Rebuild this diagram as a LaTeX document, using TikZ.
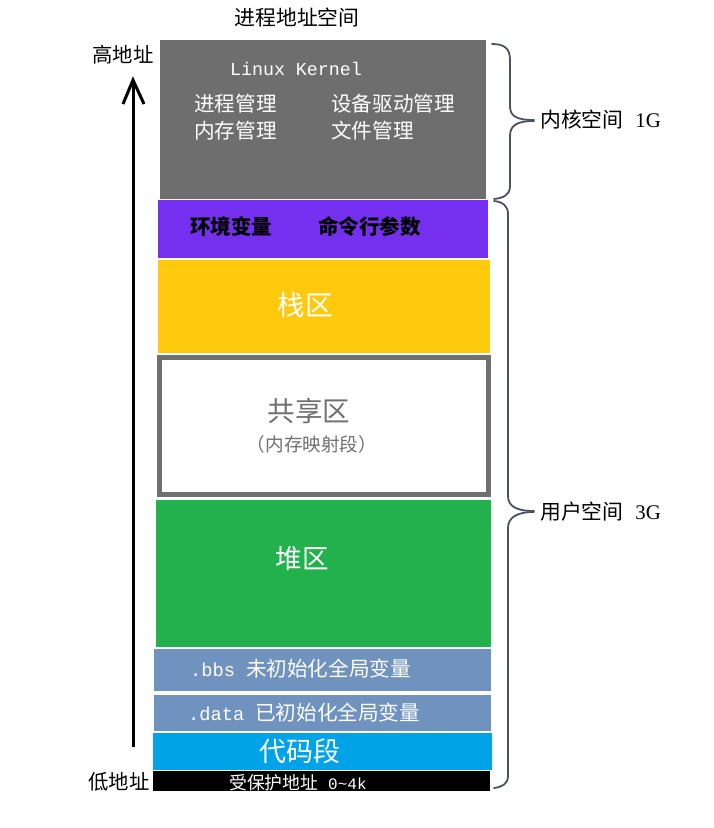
\documentclass[tikz,border=0pt]{standalone}
\usepackage{fontspec}
\setmainfont{Noto Sans CJK SC}
\newfontfamily\monofnt{Liberation Mono}
\newfontfamily\seriffnt{Liberation Serif}
\definecolor{kgray}{HTML}{6E6E6E}
\definecolor{vpurple}{HTML}{7430EE}
\definecolor{syellow}{HTML}{FFC90E}
\definecolor{hgreen}{HTML}{22B14C}
\definecolor{sblue}{HTML}{7092BE}
\definecolor{ccyan}{HTML}{00A2E8}
\definecolor{bordergray}{HTML}{707070}
\definecolor{bracecol}{HTML}{4A5262}
\begin{document}
\begin{tikzpicture}[x=1pt,y=-1pt,
  wtxt/.style={text=white,inner sep=0pt},
  btxt/.style={text=black,inner sep=0pt},
  bracestyle/.style={draw=bracecol,line width=1.8pt,line cap=round,line join=round},
  arrowline/.style={line width=3pt}]
\useasboundingbox (0,0) rectangle (713,828);
% segments
\fill[kgray] (160,40) rectangle (486,199);
\fill[vpurple] (158,200) rectangle (488,258);
\fill[syellow] (158,260) rectangle (490,353);
\draw[bordergray,line width=5pt,fill=white] (159.5,357.5) rectangle (488.5,494.5);
\fill[hgreen] (156,500) rectangle (491,647);
\fill[sblue] (154,649) rectangle (491,691);
\fill[sblue] (154,695) rectangle (491,731);
\fill[ccyan] (153,733) rectangle (492,770);
\fill[black] (153,771) rectangle (490,791);
% texts
\node[btxt,font=\fontsize{20.8}{22}\selectfont] (title) at (297,18) {进程地址空间};
\node[btxt,font=\fontsize{20.4}{22}\selectfont] (high) at (123,55) {高地址};
\node[btxt,font=\fontsize{20.4}{22}\selectfont] (low) at (119,782) {低地址};
\node[wtxt,font=\monofnt\fontsize{18.3}{20}\selectfont] (kern) at (296,69) {Linux Kernel};
\node[wtxt,anchor=west,font=\fontsize{20.6}{22}\selectfont] (k1) at (194,104) {进程管理};
\node[wtxt,anchor=west,font=\fontsize{20.6}{22}\selectfont] (k2) at (331,104) {设备驱动管理};
\node[wtxt,anchor=west,font=\fontsize{20.6}{22}\selectfont] (k3) at (194,131) {内存管理};
\node[wtxt,anchor=west,font=\fontsize{20.6}{22}\selectfont] (k4) at (331,131) {文件管理};
\node[btxt,anchor=west,font=\bfseries\fontsize{20.5}{22}\selectfont] (env) at (190,227) {环境变量};
\node[btxt,anchor=west,font=\bfseries\fontsize{20.5}{22}\selectfont] (cmd) at (318,227) {命令行参数};
\node[wtxt,font=\fontsize{27.5}{30}\selectfont] (stack) at (305,305) {栈区};
\node[text=bordergray,inner sep=0pt,font=\fontsize{27.5}{30}\selectfont] (share) at (309,411) {共享区};
\node[text=bordergray,inner sep=0pt,font=\fontsize{18.6}{20}\selectfont] (mmap) at (312,444) {（内存映射段）};
\node[wtxt,font=\fontsize{26.5}{30}\selectfont] (heap) at (302,559) {堆区};
\node[wtxt,anchor=west,font=\fontsize{20.6}{22}\selectfont] (bbs) at (190,669) {{\monofnt\fontsize{18.7}{22}\selectfont .bbs}\hspace{11pt}未初始化全局变量};
\node[wtxt,anchor=west,font=\fontsize{20.6}{22}\selectfont] (data) at (188,713) {{\monofnt\fontsize{18.7}{22}\selectfont .data}\hspace{11pt}已初始化全局变量};
\node[wtxt,font=\fontsize{27}{30}\selectfont] (code) at (300,751) {代码段};
\node[wtxt,anchor=west,font=\fontsize{17.8}{19}\selectfont] (prot) at (229,783) {受保护地址\hspace{10pt}{\monofnt\fontsize{16}{19}\selectfont 0\char`\~4k}};
\node[btxt,anchor=west,font=\fontsize{20.8}{22}\selectfont] (ks) at (540,120) {内核空间\hspace{12pt}{\seriffnt 1G}};
\node[btxt,anchor=west,font=\fontsize{20.8}{22}\selectfont] (us) at (540,512) {用户空间\hspace{12pt}{\seriffnt 3G}};
% arrow
\coordinate (abot) at (133,747);
\coordinate (atop) at (133,80);
\draw[arrowline] (abot) -- (atop);
\draw[arrowline,line join=miter] (123,104) -- (atop) -- (144,104);
% braces
\draw[bracestyle] (492,44) .. controls (504,44) and (510,48) .. (510,60) -- (510,106)
  .. controls (510,116) and (516,120) .. (534,120);
\draw[bracestyle] (534,121) .. controls (516,121) and (510,126) .. (510,136) -- (510,186)
  .. controls (510,196) and (502,198) .. (494,199);
\draw[bracestyle] (494,201) .. controls (503,202) and (508,206) .. (508,214) -- (508,496)
  .. controls (508,506) and (516,511) .. (534,511);
\draw[bracestyle] (534,512) .. controls (516,512) and (508,518) .. (508,528) -- (508,776)
  .. controls (508,784) and (502,787) .. (494,788);
\end{tikzpicture}
\end{document}
